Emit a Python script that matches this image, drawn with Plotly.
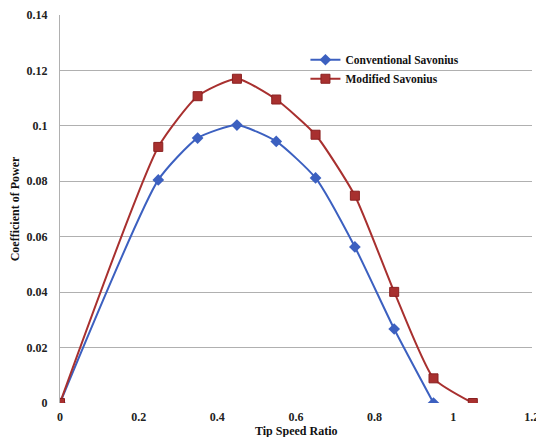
import plotly.graph_objects as go

# Tip speed ratio samples for each rotor
tsr_conventional = [0, 0.25, 0.35, 0.45, 0.55, 0.65, 0.75, 0.85, 0.95]
cp_conventional = [0, 0.0805, 0.0956, 0.1003, 0.0944, 0.0812, 0.0563, 0.0267, 0]

tsr_modified = [0, 0.25, 0.35, 0.45, 0.55, 0.65, 0.75, 0.85, 0.95, 1.05]
cp_modified = [0, 0.0924, 0.1107, 0.1170, 0.1095, 0.0968, 0.0748, 0.0401, 0.0089, 0]

x_ticks = [0, 0.2, 0.4, 0.6, 0.8, 1, 1.2]
y_ticks = [0, 0.02, 0.04, 0.06, 0.08, 0.1, 0.12, 0.14]

font_family = "Liberation Serif, Times New Roman, serif"
blue = "#3c60c0"
red = "#a8302f"

fig = go.Figure()
fig.add_trace(go.Scatter(
    x=tsr_conventional, y=cp_conventional, name="<b>Conventional Savonius</b>",
    mode="lines+markers",
    line=dict(color=blue, width=2, shape="spline", smoothing=0.55),
    marker=dict(symbol="diamond", size=9, color=blue),
))
fig.add_trace(go.Scatter(
    x=tsr_modified, y=cp_modified, name="<b>Modified Savonius</b>",
    mode="lines+markers",
    line=dict(color=red, width=2, shape="spline", smoothing=0.55),
    marker=dict(symbol="square", size=9, color=red, line=dict(color="#8a2020", width=1)),
))

# x-axis title drawn as an annotation so it can sit close to the bottom edge
fig.add_annotation(
    text="<b>Tip Speed Ratio</b>", xref="paper", yref="paper",
    x=0.5, y=-0.073, xanchor="center", yanchor="middle", showarrow=False,
    font=dict(size=12, color="#111111"),
)

fig.update_layout(
    width=536, height=437,
    margin=dict(l=60, r=4, t=15, b=34, autoexpand=False),
    paper_bgcolor="white", plot_bgcolor="white",
    font=dict(family=font_family, size=12, color="#222222"),
    legend=dict(
        x=0.52, y=0.922, xanchor="left", yanchor="top",
        bgcolor="rgba(0,0,0,0)", font=dict(size=11.5, color="#111111"),
        tracegroupgap=4, itemwidth=30,
    ),
    xaxis=dict(
        range=[0, 1.2005], tickvals=x_ticks,
        ticktext=["<b>%g</b>" % v for v in x_ticks],
        showgrid=False, zeroline=False, showline=False, automargin=False,
        ticks="", ticklabelstandoff=5, ticklabeloverflow="allow",
    ),
    yaxis=dict(
        range=[0, 0.14], tickvals=y_ticks,
        ticktext=["<b>%g</b>" % v for v in y_ticks],
        showgrid=True, gridcolor="#b0b0b0", gridwidth=1,
        zeroline=False, showline=True, linecolor="#b0b0b0", linewidth=1,
        ticks="", ticklabelstandoff=9, automargin=False,
        title=dict(text="<b>Coefficient of Power</b>", font=dict(size=12, color="#111111"), standoff=4),
    ),
)

fig.write_html("out.html")
